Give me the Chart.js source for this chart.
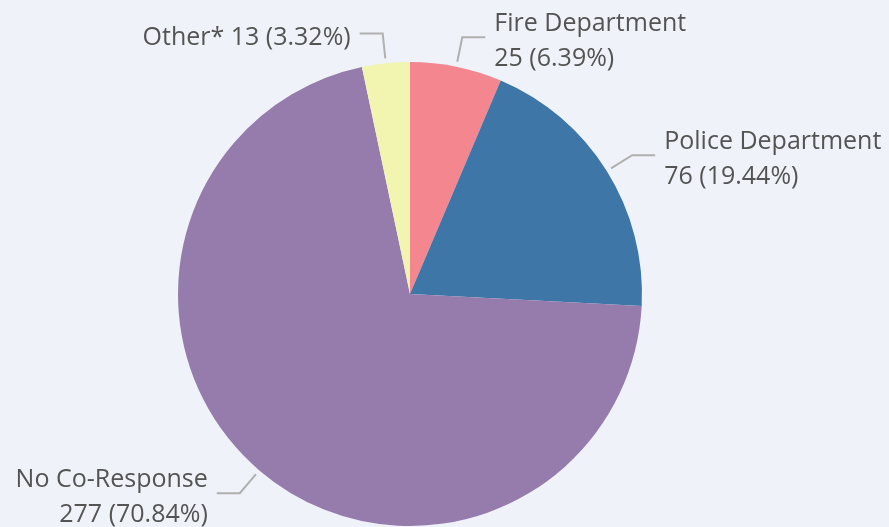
<!DOCTYPE html>
<html>
<head>
<meta charset="utf-8">
<script src="https://cdn.jsdelivr.net/npm/chart.js@4/dist/chart.umd.min.js"></script>
<style>
  html, body { margin: 0; padding: 0; background: #eff2f8; }
  #wrap { width: 889px; height: 527px; }
</style>
</head>
<body>
<div id="wrap"><canvas id="pie" width="889" height="527"></canvas></div>
<script>
const categories = ['Fire Department', 'Police Department', 'No Co-Response', 'Other*'];
const counts = [25, 76, 277, 13];
const sliceColors = ['#f4868f', '#3e77a7', '#957cad', '#f2f5b0'];
// labels that break onto two lines (name / value)
const twoLine = [true, true, true, false];

const total = counts.reduce((a, b) => a + b, 0);
const pctText = counts.map(v => (v / total * 100).toFixed(2));

const labelFont = '500 25px "Open Sans", "Noto Sans", sans-serif';
const labelColor = '#545454';
const lineColor = '#b0b0b0';

const leaderLabels = {
  id: 'leaderLabels',
  afterDatasetsDraw(chart) {
    const ctx = chart.ctx;
    const meta = chart.getDatasetMeta(0);
    ctx.save();
    ctx.font = labelFont;
    ctx.fillStyle = labelColor;
    ctx.strokeStyle = lineColor;
    ctx.lineWidth = 2;
    ctx.textBaseline = 'middle';
    meta.data.forEach((arc, i) => {
      const p = arc.getProps(['x', 'y', 'startAngle', 'endAngle', 'outerRadius'], true);
      const mid = (p.startAngle + p.endAngle) / 2;
      const cos = Math.cos(mid);
      const sin = Math.sin(mid);
      const x0 = p.x + cos * (p.outerRadius + 5);
      const y0 = p.y + sin * (p.outerRadius + 5);
      const x1 = p.x + cos * (p.outerRadius + 30);
      const y1 = p.y + sin * (p.outerRadius + 30);
      const right = cos >= 0;
      const x2 = x1 + (right ? 23 : -23);

      ctx.beginPath();
      ctx.moveTo(x0, y0);
      ctx.lineTo(x1, y1);
      ctx.lineTo(x2, y1);
      ctx.stroke();

      const valueText = `${counts[i]} (${pctText[i]}%)`;
      const lines = twoLine[i] ? [categories[i], valueText] : [`${categories[i]} ${valueText}`];
      const tx = x2 + (right ? 9 : -9);
      ctx.textAlign = right ? 'left' : 'right';
      const lh = 34.5;
      const top = y1 + 4 - (lines.length - 1) * lh / 2;
      lines.forEach((t, k) => ctx.fillText(t, tx, top + k * lh));
    });
    ctx.restore();
  }
};

new Chart(document.getElementById('pie'), {
  type: 'pie',
  data: {
    labels: categories,
    datasets: [{
      data: counts,
      backgroundColor: sliceColors,
      borderWidth: 0,
      hoverOffset: 0,
    }],
  },
  options: {
    responsive: false,
    animation: false,
    devicePixelRatio: 1,
    layout: { padding: { top: 62, bottom: 1, left: 178, right: 247 } },
    plugins: {
      legend: { display: false },
      tooltip: { enabled: false },
    },
  },
  plugins: [leaderLabels],
});
</script>
</body>
</html>
